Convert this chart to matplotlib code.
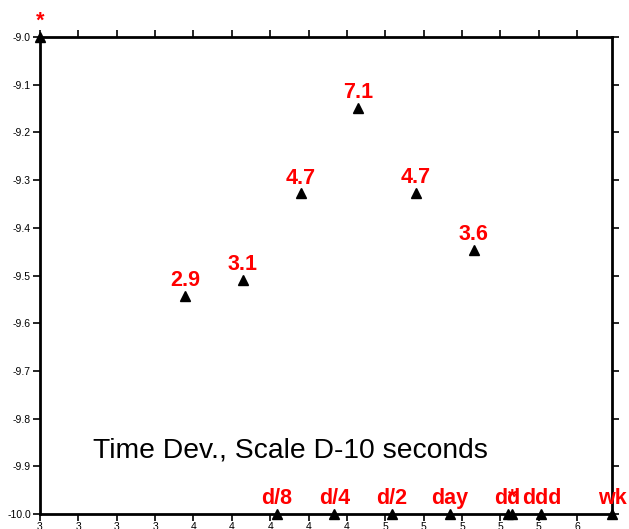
import matplotlib
matplotlib.use("Agg")
import matplotlib.pyplot as plt
from matplotlib.ticker import FixedLocator, FuncFormatter
import numpy as np

plt.rcParams['font.family'] = ['Liberation Sans', 'DejaVu Sans']

# log10(tau / s) and log10(time deviation) of the measured points
pt_x = [3.556, 3.857, 4.158, 4.459, 4.760, 5.061]
pt_y = [-9.542, -9.510, -9.328, -9.149, -9.326, -9.446]
pt_lab = ["2.9", "3.1", "4.7", "7.1", "4.7", "3.6"]

# interval markers along the bottom axis
mk_x = [4.033, 4.334, 4.635, 4.936, 5.237, 5.262, 5.414, 5.7816]
mk_lab = ["d/8", "d/4", "d/2", "day", "dd", "*", "ddd", "wk"]

# corner marker
cx, cy, clab = 2.8, -9.0, "*"

xmin, xmax = 2.8, 5.7816
ymin, ymax = -10.0, -9.0

fig = plt.figure(figsize=(6.29, 5.29), dpi=100)
ax = fig.add_axes([40/629, 1 - 514/529, 572/629, 477/529])
ax.set_xlim(xmin, xmax)
ax.set_ylim(ymin, ymax)

red = '#ff0000'
lab_kw = dict(textcoords='offset points', xytext=(0, 3.5), ha='center', va='bottom',
              color=red, fontsize=15.5, fontweight='bold', annotation_clip=False)

ax.plot(pt_x, pt_y, linestyle='none', marker='^', color='black', markersize=7, clip_on=False)
for x, y, s in zip(pt_x, pt_y, pt_lab):
    ax.annotate(s, (x, y), **lab_kw)

mk_y = [ymin] * len(mk_x)
ax.plot(mk_x, mk_y, linestyle='none', marker='^', color='black', markersize=7,
        clip_on=False, zorder=5)
for x, y, s in zip(mk_x, mk_y, mk_lab):
    ax.annotate(s, (x, y), **lab_kw)

ax.plot([cx], [cy], linestyle='none', marker='^', color='black', markersize=7,
        clip_on=False, zorder=5)
ax.annotate(clab, (cx, cy), **lab_kw)

ax.text(0.0927, 0.134, "Time Dev., Scale D-10 seconds", transform=ax.transAxes,
        fontsize=20.3, ha='left', va='center', color='black')

xt = [xmin + 0.2 * i for i in range(15)]
ax.xaxis.set_major_locator(FixedLocator(xt))
ax.xaxis.set_major_formatter(FuncFormatter(lambda v, p: f"{v:.0f}"))
yt = [ymin + 0.1 * i for i in range(11)]
ax.yaxis.set_major_locator(FixedLocator(yt))
ax.yaxis.set_major_formatter(FuncFormatter(lambda v, p: f"{v:.1f}"))

for sp in ax.spines.values():
    sp.set_linewidth(2)
ax.tick_params(axis='x', which='both', direction='out', length=5, width=1.2,
               pad=1, labelsize=7.5, top=True, bottom=True)
ax.tick_params(axis='y', which='both', direction='out', length=5, width=1.2,
               pad=1.5, labelsize=7.5, left=True, right=True)

fig.savefig("out.png", dpi=100)
